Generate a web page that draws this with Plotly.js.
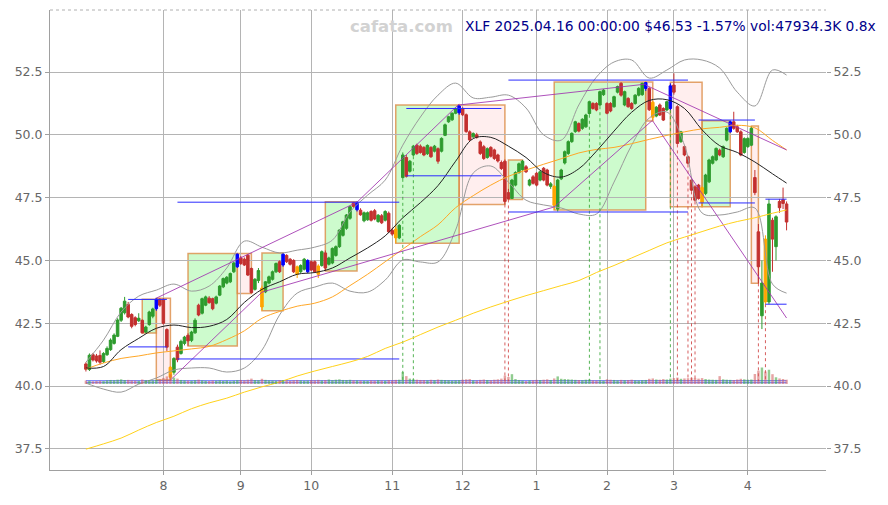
<!DOCTYPE html>
<html><head><meta charset="utf-8">
<script src="https://cdn.plot.ly/plotly-3.0.1.min.js"></script>
<style>html,body{margin:0;padding:0;background:#fff}#chart{width:888px;height:505px}</style>
</head><body><div id="chart"></div>
<script>
// ---- OHLC (trading-day index 0 = 2024-07-01 ... 199 = 2025-04-16) ----
const O=[40.88,40.66,41.25,41.20,41.22,40.98,41.25,41.45,41.70,41.98,
42.62,42.92,43.25,42.85,42.72,42.60,42.62,42.15,42.45,42.78,
43.08,43.45,43.45,42.25,40.75,40.55,41.55,41.30,41.70,42.02,
41.82,42.12,43.22,42.90,43.22,43.50,43.48,43.30,43.62,43.95,
44.10,44.15,44.55,44.75,45.10,45.05,45.21,44.68,43.85,44.20,
43.90,43.75,44.10,44.25,44.55,44.95,44.82,45.20,45.05,45.00,
44.75,44.55,44.65,44.55,44.95,44.95,44.78,44.80,45.30,44.85,
44.90,45.20,45.55,46.00,46.28,46.68,47.30,47.02,47.00,46.58,
46.62,46.95,46.98,46.55,46.78,46.60,46.88,46.20,46.25,45.90,
48.30,49.10,48.55,49.20,49.59,49.55,49.50,49.25,49.50,49.35,
49.45,49.35,49.98,50.52,50.60,50.86,50.88,51.05,50.80,50.12,
49.92,50.00,49.72,49.53,49.10,49.50,49.40,49.20,48.90,48.95,
47.70,47.47,48.00,48.50,48.62,48.73,48.00,48.33,48.47,48.20,
48.67,48.60,47.95,47.95,47.05,48.25,48.88,49.26,49.73,50.13,
50.45,50.26,50.32,50.85,51.25,51.25,51.19,51.60,51.25,51.25,
51.12,51.70,52.05,51.19,51.45,51.25,51.25,51.58,51.60,51.85,
51.85,51.30,50.75,51.19,51.05,50.99,51.05,51.98,51.12,49.73,
49.53,49.13,48.20,47.93,48.00,47.90,47.67,48.13,48.87,49.00,
49.39,49.13,49.79,50.12,50.52,50.32,50.12,49.30,49.53,49.59,
48.30,46.14,42.80,45.85,43.35,46.60,45.55,47.35,47.42,47.25];
const H=[40.95,41.30,41.32,41.28,41.42,41.35,41.58,41.90,42.10,42.70,
43.15,43.55,43.35,42.90,42.78,42.90,42.65,42.40,43.00,43.12,
43.50,43.50,43.50,42.30,40.80,41.15,41.65,41.85,42.00,42.10,
42.20,42.70,43.28,43.52,43.60,43.58,43.52,43.60,44.02,44.32,
44.38,44.52,44.95,45.28,45.18,45.12,45.25,44.72,44.30,44.70,
44.00,44.18,44.40,44.60,44.92,45.00,45.30,45.25,45.10,45.05,
44.80,44.85,45.10,45.05,45.00,45.00,44.85,45.40,45.40,45.15,
45.52,45.60,46.25,46.58,46.85,47.18,47.33,47.34,47.08,46.95,
46.95,47.00,47.05,46.85,46.85,47.00,46.95,46.30,46.35,46.45,
49.30,49.20,49.00,49.60,49.65,49.62,49.55,49.62,49.55,49.60,
49.50,49.90,50.45,50.76,50.90,51.08,51.19,51.10,50.85,50.18,
50.10,50.08,49.78,49.60,49.50,49.55,49.45,49.25,48.98,49.02,
47.85,48.25,48.55,48.90,49.00,48.80,48.25,48.40,48.52,48.58,
48.72,48.65,48.12,48.00,48.25,48.65,49.38,49.78,50.10,50.56,
50.50,50.66,50.84,51.36,51.30,51.30,51.76,51.82,51.30,51.30,
51.56,51.96,52.10,51.76,51.50,51.30,51.62,51.90,52.08,52.10,
51.90,51.35,51.15,51.25,51.10,51.36,52.05,52.45,51.18,50.16,
49.58,49.18,48.30,48.00,48.05,47.95,48.45,49.05,49.18,49.50,
49.45,49.58,50.30,50.56,50.92,50.40,50.18,49.90,49.90,50.35,
48.60,46.45,45.00,46.00,47.45,46.70,46.80,47.45,47.90,47.35];
const L=[40.58,40.60,40.98,40.93,40.85,40.92,41.20,41.40,41.65,41.95,
42.55,42.85,42.70,42.30,42.38,42.55,42.10,42.11,42.40,42.70,
43.00,43.15,42.45,41.40,40.24,40.45,40.95,41.25,41.62,41.60,
41.75,42.08,42.78,42.85,43.18,43.28,43.02,43.25,43.58,43.90,
44.05,44.10,44.50,44.70,44.82,44.78,44.38,43.69,43.80,44.10,
43.00,43.70,44.05,44.20,44.50,44.50,44.75,44.90,44.80,44.50,
44.30,44.50,44.60,44.50,44.58,44.50,44.30,44.75,44.58,44.80,
44.85,45.15,45.50,45.95,46.22,46.62,47.10,46.95,46.78,46.52,
46.58,46.55,46.60,46.50,46.45,46.55,46.10,45.98,45.69,45.85,
48.25,48.30,48.50,49.15,49.20,49.25,49.15,49.20,49.08,49.30,
48.85,49.30,49.95,50.48,50.55,50.82,50.80,50.75,50.08,49.75,
49.88,49.85,49.20,49.00,49.05,49.10,49.00,48.90,48.60,47.23,
47.43,47.45,47.95,48.45,48.58,48.48,47.95,48.02,47.95,48.15,
48.15,47.95,47.85,47.01,46.95,48.20,48.82,49.20,49.68,50.08,
50.10,50.20,50.28,50.80,51.00,50.94,51.14,51.55,50.82,50.90,
51.08,51.65,51.52,51.14,51.08,51.00,51.20,51.53,51.55,51.75,
50.95,50.55,50.70,50.75,50.55,50.95,50.98,51.60,49.62,49.68,
49.15,48.82,47.75,47.35,47.42,47.14,47.60,48.08,48.82,48.95,
49.15,49.08,49.74,50.08,50.20,50.08,49.15,49.25,49.48,49.55,
47.60,44.09,42.27,43.26,43.26,44.55,45.00,46.90,47.05,46.20];
const C=[40.67,41.23,41.04,41.00,40.95,41.30,41.50,41.83,42.03,42.63,
43.10,43.38,42.75,42.38,42.45,42.70,42.12,42.35,42.95,43.07,
43.46,43.22,42.50,41.55,40.35,41.10,41.05,41.78,41.95,41.80,
42.15,42.62,42.83,43.48,43.55,43.32,43.08,43.55,43.98,44.28,
44.33,44.48,44.90,45.25,44.88,44.82,44.42,43.72,44.25,44.60,
43.15,44.15,44.35,44.55,44.88,44.55,45.25,44.95,44.85,44.55,
44.45,44.80,45.05,45.00,44.62,44.55,44.45,45.35,44.70,45.10,
45.48,45.55,46.21,46.54,46.81,47.14,47.15,47.30,46.82,46.90,
46.90,46.60,46.65,46.80,46.50,46.95,46.14,46.05,45.90,46.40,
49.20,48.35,48.95,49.55,49.26,49.30,49.20,49.58,49.13,49.55,
48.95,49.86,50.40,50.72,50.86,51.05,51.15,50.80,50.13,49.80,
50.05,49.90,49.26,49.06,49.45,49.15,49.06,48.96,48.66,47.35,
47.45,48.20,48.50,48.85,48.95,48.53,48.20,48.07,48.00,48.53,
48.20,48.00,48.05,47.20,48.20,48.60,49.33,49.73,50.06,50.52,
50.15,50.62,50.79,51.32,51.05,50.99,51.72,51.78,50.86,50.95,
51.52,51.92,51.58,51.72,51.12,51.05,51.58,51.85,52.05,52.08,
51.00,50.70,51.10,50.79,50.59,51.32,51.95,51.70,49.66,50.12,
49.20,48.87,47.80,47.40,47.47,47.30,48.40,49.00,49.13,49.46,
49.20,49.53,50.26,50.52,50.26,50.12,49.20,49.85,49.86,50.26,
47.70,44.75,44.10,43.35,47.25,45.85,46.74,47.10,47.27,46.53];
// volume, millions
const VOL=[38,35,30,33,36,32,40,45,42,48, 52,44,46,40,38,35,50,41,43,39,
47,52,68,85,110,72,60,45,40,38, 36,42,48,40,35,33,38,36,40,34,
38,30,36,42,45,40,48,60,44,42, 58,46,40,38,36,42,44,39,35,41,
45,40,36,38,42,40,46,39,44,50, 42,48,52,45,44,47,41,40,38,36,
35,40,37,42,39,36,44,40,46,48, 135,88,60,52,48,45,44,40,47,42,
50,46,44,42,38,40,43,48,52,55, 40,38,46,50,44,42,48,52,60,95,
78,110,55,45,38,32,40,42,46,44, 48,52,45,62,85,58,55,52,50,46,
44,42,48,50,40,38,42,36,52,48, 45,40,46,42,44,48,40,38,42,45,
58,62,50,48,55,50,60,66,72,58, 62,65,70,68,60,66,55,50,48,46,
88,52,48,46,44,50,58,52,48,50, 112,150,185,140,160,110,75,62,56,48];
const blueIdx=[20,43,56,63,77,106,159,166,183];
const orangeIdx=[24,50,60,66,88,133,161,175,193];

// month ticks (trading-day index of first session)
const monthTickIdx=[22,44,64,87,107,128,148,167,188];
const monthTickText=['8','9','10','11','12','1','2','3','4'];
const priceTicks=[37.5,40,42.5,45,47.5,50,52.5];

// indicator samples
const indIdx=[0,5,10,15,20,25,30,35,40,45,50,55,60,65,70,75,80,85,90,95,100,105,110,115,120,125,130,135,140,145,150,155,160,165,170,175,180,185,190,195,199];
const ma20=[40.72,40.78,41.45,41.90,42.30,42.43,42.33,42.38,42.65,43.33,43.85,44.15,44.45,44.52,44.70,45.10,45.50,45.98,46.70,47.30,47.98,48.95,49.85,49.90,49.55,49.10,48.50,48.32,48.65,49.35,50.15,50.90,51.37,51.40,51.05,50.20,49.57,49.30,48.92,48.45,48.08];
const ma50=[40.68,40.92,41.10,41.20,41.32,41.40,41.48,41.58,41.85,42.20,42.70,42.97,43.18,43.30,43.55,44.00,44.45,44.95,45.45,45.95,46.42,47.10,47.58,48.00,48.35,48.60,48.83,49.05,49.28,49.42,49.50,49.65,49.82,49.98,50.12,50.24,50.30,50.38,50.28,49.78,49.40];
const ma200=[37.49,37.70,37.93,38.25,38.55,38.80,39.10,39.33,39.52,39.76,39.97,40.16,40.40,40.60,40.78,40.96,41.18,41.50,41.75,42.05,42.35,42.62,42.90,43.15,43.38,43.60,43.80,44.00,44.20,44.52,44.80,45.10,45.40,45.70,45.93,46.15,46.37,46.55,46.70,46.88,47.01];
const bbUp=[40.95,41.83,42.95,43.58,43.82,44.06,43.78,43.98,44.70,45.77,45.53,45.30,45.41,45.53,45.81,46.93,47.60,48.20,49.59,50.71,51.58,52.06,51.47,51.50,51.58,51.07,50.00,49.79,51.19,52.30,52.90,52.98,52.26,52.58,52.98,52.98,52.66,51.70,51.15,52.58,52.38];
const bbLo=[40.12,39.88,39.76,40.08,40.32,40.64,40.72,40.72,40.56,40.72,41.43,42.83,43.70,43.94,44.10,43.78,43.74,44.22,45.02,44.94,44.94,46.21,48.48,48.76,48.12,47.40,47.21,47.09,46.85,46.85,48.12,49.59,50.67,50.91,49.59,46.89,46.81,46.93,47.09,44.06,43.70];

// boxes
const boxStart=[16,20,29,43,50,68,88,106,120,133,159,166,175,189];
const boxEnd=[20,24,43,47,56,77,106,119,124,159,161,175,183,191];
const boxLow=[42.11,40.24,41.60,43.69,43.00,44.58,45.69,47.23,47.43,47.01,50.55,47.14,47.14,44.09];
const boxHigh=[43.46,43.50,45.28,45.28,45.30,47.34,51.19,51.19,49.00,52.10,52.10,52.09,50.56,50.35];
const boxKind=['up','down','up','down','up','up','up','down','up','up','down','down','up','down'];

// horizontal level lines
const hlStart=[12,12,26,26,91,91,120,120,174,174,193,193];
const hlEnd=[23,23,89,89,118,118,171,171,190,190,199,199];
const hlVal=[43.45,41.56,47.32,41.08,51.05,48.37,52.18,46.93,50.59,47.29,47.44,43.26];
const baseLineVal=[40.21,40.13];

// trend lines
const tlStart=[20,77,106,24,50,133,161,159];
const tlEnd=[77,106,159,50,133,161,199,199];
const tlFrom=[43.50,47.32,51.19,40.24,43.74,47.13,50.55,51.98];
const tlTo=[47.32,51.23,52.02,43.74,47.13,50.59,42.71,49.40];

// dotted signal lines
const dotIdx=[90,93,143,146,166,119,120,168,171,172,173,191,193];
const dotKind=['g','g','g','g','g','r','r','r','r','r','r','r','r'];
const dotBottom=40.2;

// ---- build ----
const GREEN='#2e9b2e', RED='#c3302f';
const N=C.length;
const all=[...Array(N).keys()];
const special=new Set(blueIdx.concat(orangeIdx));
function candles(list,inc,dec){
  return {type:'candlestick',x:list,open:list.map(i=>O[i]),high:list.map(i=>H[i]),
    low:list.map(i=>L[i]),close:list.map(i=>C[i]),
    increasing:{line:{color:inc,width:1},fillcolor:inc},
    decreasing:{line:{color:dec,width:1},fillcolor:dec},
    whiskerwidth:0,hoverinfo:'skip',showlegend:false};
}
function segs(s,e,a,b){
  const x=[],y=[];
  for(let k=0;k<s.length;k++){x.push(s[k],e[k],null);y.push(a[k],b[k],null);}
  return {x,y};
}
function line(x,y,color,width,extra){
  return Object.assign({type:'scatter',mode:'lines',x,y,line:{color,width},hoverinfo:'skip',showlegend:false},extra||{});
}
const traces=[];
// base blue lines
baseLineVal.forEach(v=>traces.push(line([0,N-1],[v,v],'rgba(40,60,255,0.8)',1.1)));
// volume
traces.push({type:'bar',x:all,y:VOL,yaxis:'y3',
  marker:{color:all.map(i=>C[i]>=O[i]?'rgba(70,170,70,0.6)':'rgba(210,90,90,0.55)'),line:{width:0}},
  hoverinfo:'skip',showlegend:false});
// indicators
traces.push(line(indIdx,bbUp,'#9a9a9a',1,{line:{color:'#9a9a9a',width:1,shape:'spline'}}));
traces.push(line(indIdx,bbLo,'#9a9a9a',1,{line:{color:'#9a9a9a',width:1,shape:'spline'}}));
traces.push(line(indIdx,ma200,'#ffd21a',1,{yaxis:'y2',line:{color:'#ffd21a',width:1,shape:'spline'}}));
traces.push(line(indIdx,ma50,'#ffa726',1,{line:{color:'#ffa726',width:1,shape:'spline'}}));
traces.push(line(indIdx,ma20,'#222222',1,{line:{color:'#222222',width:1,shape:'spline'}}));
// dotted lines
['g','r'].forEach(k=>{
  const x=[],y=[];
  dotIdx.forEach((d,j)=>{if(dotKind[j]===k){x.push(d,d,null);y.push(L[d],dotBottom,null);}});
  const col=k==='g'?'rgba(40,160,40,0.8)':'rgba(200,40,40,0.75)';
  traces.push(line(x,y,col,1,{line:{color:col,width:1,dash:'dot'}}));
});
// trend lines
const tl=segs(tlStart,tlEnd,tlFrom,tlTo);
traces.push(line(tl.x,tl.y,'rgba(160,50,175,0.85)',1));
// level lines
const hl=segs(hlStart,hlEnd,hlVal,hlVal);
traces.push(line(hl.x,hl.y,'#2b2bff',1));
// candles
traces.push(candles(all.filter(i=>!special.has(i)),GREEN,RED));
traces.push(candles(blueIdx,'#0000ff','#0000ff'));
traces.push(candles(orangeIdx,'#ffa500','#ffa500'));

const shapes=boxStart.map((s,k)=>({type:'rect',xref:'x',yref:'y',x0:s,x1:boxEnd[k],y0:boxLow[k],y1:boxHigh[k],
  fillcolor:boxKind[k]==='up'?'rgba(60,240,60,0.26)':'rgba(255,120,120,0.13)',
  line:{color:'rgba(220,140,70,0.8)',width:1.5},layer:'below'}));
shapes.push({type:'line',xref:'paper',yref:'paper',x0:0,x1:1,y0:1,y1:1,line:{color:'#b0b0b0',width:1,dash:'dot'}});

const yr=[36.66,54.97];
const tickFont={family:'DejaVu Sans',size:12.5,color:'#666'};
const layout={
  width:888,height:505,margin:{l:50,r:62,t:10,b:35},
  paper_bgcolor:'#fff',plot_bgcolor:'#fff',showlegend:false,hovermode:false,
  boxgap:0.15,boxgroupgap:0.15,bargap:0.3,
  font:{family:'DejaVu Sans'},
  xaxis:{type:'linear',range:[-10.2,210.2],tickvals:monthTickIdx,ticktext:monthTickText,
    showgrid:true,gridcolor:'#b4b4b4',gridwidth:1,zeroline:false,showline:true,linecolor:'#a0a0a0',
    ticks:'outside',ticklen:4,tickcolor:'#a0a0a0',tickfont:tickFont,rangeslider:{visible:false},fixedrange:true},
  yaxis:{range:yr,tickvals:priceTicks,tickformat:'.1f',showgrid:true,gridcolor:'#b4b4b4',gridwidth:1,
    zeroline:false,showline:true,linecolor:'#a0a0a0',ticks:'outside',ticklen:4,tickcolor:'#a0a0a0',
    tickfont:tickFont,fixedrange:true},
  yaxis2:{overlaying:'y',side:'right',range:yr,tickvals:priceTicks,tickformat:'.1f',showgrid:false,
    zeroline:false,showline:false,ticks:'outside',ticklen:4,tickcolor:'#a0a0a0',tickfont:tickFont,fixedrange:true},
  yaxis3:{overlaying:'y',range:[-968,4207],visible:false,fixedrange:true},
  shapes,
  annotations:[
    {xref:'paper',yref:'paper',x:0.453,y:0.965,xanchor:'center',yanchor:'middle',showarrow:false,
     text:'cafata.com',font:{family:'DejaVu Sans',size:16.5,color:'#d2d2d2',weight:'bold'}},
    {xref:'paper',yref:'paper',x:1.067,y:0.965,xanchor:'right',yanchor:'middle',showarrow:false,
     text:'XLF 2025.04.16 00:00:00 $46.53 -1.57% vol:47934.3K 0.8x',font:{family:'DejaVu Sans',size:13.8,color:'#00008b'}}
  ]
};
Plotly.newPlot('chart',traces,layout,{staticPlot:true,displayModeBar:false});
</script></body></html>
